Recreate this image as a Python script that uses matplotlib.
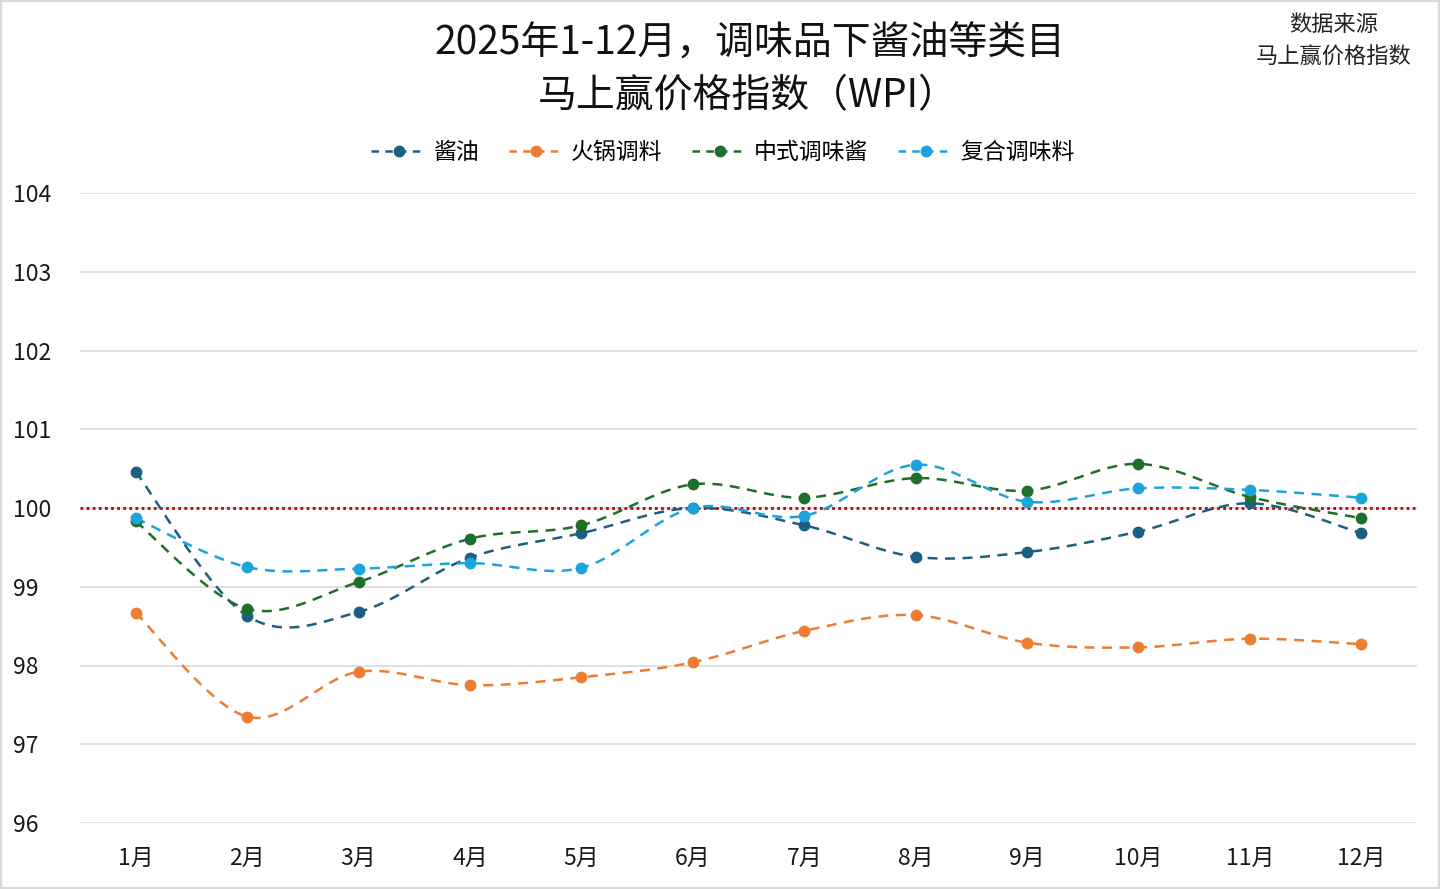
import numpy as np
import matplotlib
matplotlib.use("Agg")
import matplotlib.pyplot as plt
from matplotlib.patches import Rectangle

plt.rcParams['font.family'] = ['Noto Sans CJK SC', 'DejaVu Sans']

months = ['1月', '2月', '3月', '4月', '5月', '6月', '7月', '8月', '9月', '10月', '11月', '12月']
jiangyou = [100.46, 98.63, 98.68, 99.37, 99.68, 100.00, 99.78, 99.38, 99.44, 99.70, 100.06, 99.68]
huoguo = [98.67, 97.35, 97.92, 97.75, 97.85, 98.04, 98.44, 98.64, 98.29, 98.23, 98.34, 98.27]
zhongshi = [99.83, 98.72, 99.06, 99.61, 99.78, 100.30, 100.13, 100.38, 100.22, 100.56, 100.14, 99.87]
fuhe = [99.87, 99.25, 99.23, 99.30, 99.24, 100.00, 99.90, 100.55, 100.08, 100.25, 100.23, 100.13]

series = [
    ('酱油', jiangyou, '#1d5f80'),
    ('火锅调料', huoguo, '#ed7d31'),
    ('中式调味酱', zhongshi, '#1f6e2a'),
    ('复合调味料', fuhe, '#1ba3dc'),
]


def smooth(x, y, n=30):
    # Excel-style smoothed line: Catmull-Rom through the points
    x = np.asarray(x, float)
    y = np.asarray(y, float)
    px = np.concatenate([[x[0]], x, [x[-1]]])
    py = np.concatenate([[y[0]], y, [y[-1]]])
    xs, ys = [], []
    t = np.linspace(0, 1, n)
    for i in range(1, len(px) - 2):
        p0, p1, p2, p3 = (np.array([px[j], py[j]]) for j in (i - 1, i, i + 1, i + 2))
        c1 = p1 + (p2 - p0) / 6
        c2 = p2 - (p3 - p1) / 6
        b = ((1 - t) ** 3)[:, None] * p1 + (3 * (1 - t) ** 2 * t)[:, None] * c1 \
            + (3 * (1 - t) * t ** 2)[:, None] * c2 + (t ** 3)[:, None] * p2
        xs.extend(b[:, 0])
        ys.extend(b[:, 1])
    return np.array(xs), np.array(ys)


fig = plt.figure(figsize=(14.4, 8.89), dpi=100)
ax = fig.add_axes([80 / 1440, 66 / 889, 1337 / 1440, 630 / 889])

x = np.arange(len(months))
for name, vals, col in series:
    sx, sy = smooth(x, vals)
    ax.plot(sx, sy, color=col, lw=1.8, dashes=(4, 3), zorder=3)
    ax.plot(x, vals, 'o', color=col, ms=7.5, zorder=4)
    ax.plot([], [], color=col, lw=1.8, dashes=(3, 2.5), marker='o', ms=7.5, label=name)

ax.axhline(100, color='#c00000', lw=2, ls=(0, (1, 1.2)), zorder=2)

ax.set_xlim(-0.5, len(months) - 0.5)
ax.set_ylim(96, 104)
ax.set_yticks(range(96, 105))
ax.set_xticks(x)
ax.set_xticklabels(months)
ax.grid(axis='y', color='#d9d9d9', lw=1.2)
ax.set_axisbelow(True)
for s in ax.spines.values():
    s.set_visible(False)
ax.tick_params(length=0, labelsize=16.5, colors='#1a1a1a')
ax.tick_params(axis='y', pad=48)
for lab in ax.get_yticklabels():
    lab.set_horizontalalignment('left')
ax.tick_params(axis='x', pad=17)

fig.text(0.521, 0.951, '2025年1-12月，调味品下酱油等类目', ha='center', va='center', fontsize=28, color='#111111')
fig.text(0.519, 0.892, '马上赢价格指数（WPI）', ha='center', va='center', fontsize=28, color='#111111')
fig.text(0.926, 0.972, '数据来源', ha='center', va='center', fontsize=16, color='#222222')
fig.text(0.926, 0.936, '马上赢价格指数', ha='center', va='center', fontsize=16, color='#222222')

fig.legend(loc='center', bbox_to_anchor=(0.502, 0.828), ncol=4, frameon=False,
           fontsize=16.5, handlelength=2.4, handletextpad=0.3, columnspacing=1.3)

fig.patches.append(Rectangle((0, 0), 1, 1, transform=fig.transFigure, fill=False,
                             edgecolor='#d9d9d9', lw=3))

fig.savefig('out.png', dpi=100)
